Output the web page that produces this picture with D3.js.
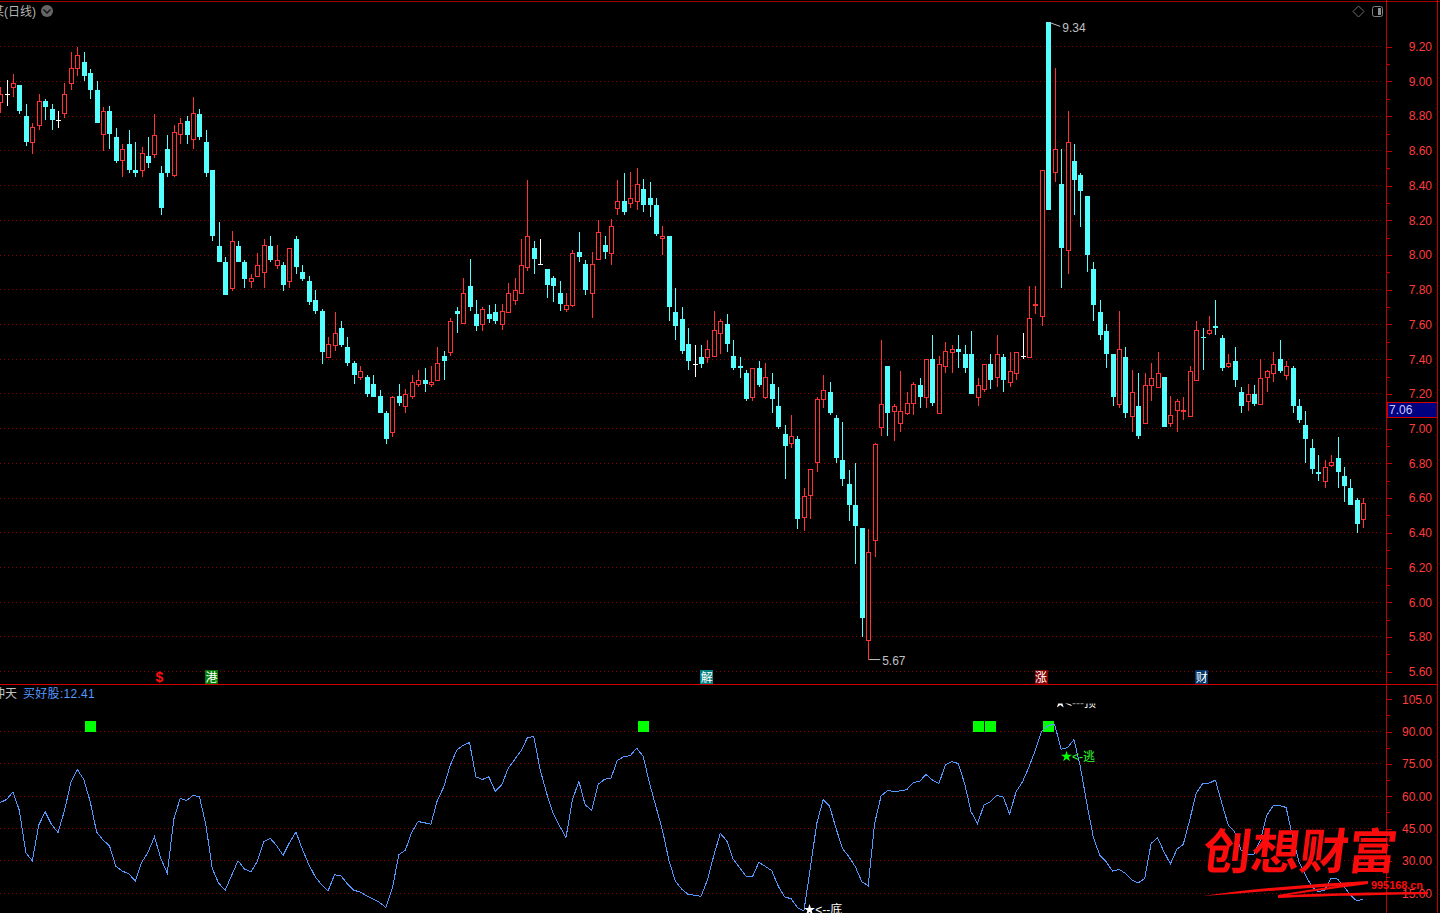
<!DOCTYPE html>
<html><head><meta charset="utf-8">
<script src="https://cdn.jsdelivr.net/npm/d3@7"></script>
<style>
html,body{margin:0;padding:0;background:#000;overflow:hidden}
svg{display:block;background:#000}
text{font-family:"Liberation Sans","Noto Sans CJK SC",sans-serif}
</style></head><body><svg id="c" width="1440" height="913"></svg>
<script>
const highs=[
8.97,9.01,9.04,8.98,8.87,8.76,8.93,8.90,8.87,8.83,
8.99,9.17,9.20,9.17,9.07,9.00,8.85,8.86,8.73,8.64,
8.72,8.65,8.62,8.68,8.81,8.51,8.69,8.75,8.79,8.80,
8.91,8.84,8.72,8.49,8.19,7.99,8.14,8.08,7.97,7.89,
8.01,8.09,8.11,8.06,7.96,8.04,8.11,7.94,7.88,7.80,
7.69,7.53,7.67,7.62,7.53,7.39,7.36,7.31,7.31,7.22,
7.10,7.19,7.26,7.23,7.31,7.34,7.35,7.36,7.47,7.45,
7.64,7.70,7.87,7.98,7.74,7.70,7.71,7.72,7.72,7.84,
7.87,8.09,8.43,8.08,8.09,7.92,7.88,7.85,7.78,8.03,
8.13,7.97,8.02,8.20,8.11,8.21,8.43,8.47,8.48,8.50,
8.44,8.42,8.33,8.17,8.11,7.81,7.70,7.58,7.48,7.48,
7.51,7.68,7.63,7.66,7.51,7.41,7.34,7.35,7.39,7.38,
7.32,7.24,7.02,7.08,6.96,6.66,6.77,7.18,7.31,7.27,
7.08,7.04,6.76,6.80,6.43,6.42,6.92,7.51,7.36,7.14,
7.33,7.21,7.27,7.29,7.40,7.54,7.42,7.50,7.48,7.54,
7.48,7.56,7.29,7.37,7.43,7.54,7.43,7.44,7.44,7.55,
7.82,7.82,8.49,9.34,9.08,8.61,8.83,8.64,8.47,8.34,
7.96,7.74,7.60,7.43,7.68,7.47,7.34,7.32,7.32,7.38,
7.44,7.30,7.19,7.17,7.18,7.36,7.62,7.58,7.65,7.74,
7.54,7.43,7.47,7.24,7.26,7.25,7.40,7.34,7.44,7.51,
7.39,7.36,7.17,7.10,6.94,6.85,6.82,6.85,6.95,6.78,
6.71,6.60,6.60];
const lows=[
8.82,8.86,8.91,8.81,8.63,8.58,8.72,8.78,8.72,8.73,
8.79,8.95,9.03,9.00,8.90,8.76,8.60,8.61,8.53,8.45,
8.47,8.45,8.45,8.50,8.56,8.23,8.45,8.45,8.64,8.64,
8.61,8.66,8.45,8.08,7.96,7.77,7.79,7.96,7.81,7.81,
7.88,7.81,7.96,7.92,7.79,7.81,7.89,7.85,7.71,7.66,
7.37,7.41,7.45,7.47,7.36,7.26,7.28,7.18,7.18,7.09,
6.91,6.95,7.13,7.09,7.17,7.24,7.21,7.24,7.28,7.28,
7.42,7.55,7.61,7.68,7.56,7.56,7.61,7.60,7.57,7.67,
7.71,7.78,7.91,7.89,7.95,7.75,7.73,7.68,7.67,7.70,
7.96,7.77,7.64,7.98,7.98,7.94,8.23,8.23,8.27,8.26,
8.25,8.22,8.11,8.00,7.62,7.51,7.43,7.34,7.30,7.35,
7.38,7.41,7.43,7.44,7.34,7.29,7.16,7.16,7.24,7.17,
7.09,7.00,6.71,6.89,6.42,6.41,6.48,6.75,7.12,7.08,
6.80,6.67,6.47,6.22,5.80,5.67,6.26,6.96,6.96,6.93,
6.98,7.08,7.08,7.12,7.12,7.13,7.09,7.32,7.32,7.35,
7.32,7.20,7.13,7.21,7.23,7.24,7.21,7.24,7.28,7.40,
7.41,7.66,7.59,8.26,8.42,7.81,7.89,8.23,8.16,7.90,
7.62,7.51,7.35,7.13,7.12,7.06,6.98,6.94,7.03,7.16,
7.24,7.01,7.01,6.98,7.05,7.07,7.28,7.34,7.54,7.54,
7.33,7.35,7.24,7.09,7.10,7.13,7.14,7.21,7.27,7.32,
7.28,7.09,7.03,6.80,6.74,6.70,6.66,6.78,6.66,6.58,
6.56,6.40,6.43];
const opens=[
8.88,8.93,8.97,8.98,8.80,8.65,8.75,8.89,8.84,8.78,
8.82,8.99,9.08,9.11,9.05,8.95,8.70,8.83,8.68,8.55,
8.64,8.49,8.49,8.57,8.58,8.47,8.61,8.46,8.70,8.77,
8.67,8.81,8.65,8.49,8.05,7.96,7.81,8.05,7.96,7.85,
7.88,7.90,8.05,7.94,7.94,7.85,8.09,7.90,7.85,7.74,
7.68,7.41,7.48,7.58,7.47,7.38,7.30,7.30,7.26,7.19,
7.09,6.98,7.19,7.13,7.19,7.26,7.28,7.26,7.28,7.42,
7.44,7.68,7.61,7.82,7.66,7.60,7.66,7.67,7.60,7.67,
7.74,7.78,7.93,8.04,7.95,7.92,7.87,7.78,7.69,7.71,
8.02,7.95,7.78,7.98,8.06,8.01,8.27,8.31,8.30,8.31,
8.38,8.33,8.29,8.10,8.11,7.67,7.63,7.49,7.37,7.41,
7.41,7.42,7.55,7.60,7.42,7.36,7.32,7.18,7.35,7.18,
7.26,7.13,6.97,6.92,6.94,6.49,6.62,6.81,7.17,7.21,
7.06,6.82,6.68,6.56,6.43,5.78,6.36,7.01,7.36,7.10,
7.03,7.09,7.15,7.25,7.18,7.40,7.09,7.36,7.44,7.46,
7.43,7.43,7.18,7.23,7.37,7.30,7.41,7.27,7.32,7.42,
7.41,7.71,7.65,9.34,8.48,8.41,8.03,8.54,8.46,8.34,
7.92,7.67,7.56,7.43,7.14,7.41,7.07,7.13,7.03,7.25,
7.24,7.30,7.03,7.11,7.10,7.07,7.28,7.53,7.55,7.59,
7.52,7.36,7.39,7.21,7.16,7.20,7.14,7.30,7.32,7.40,
7.31,7.35,7.13,7.02,6.89,6.75,6.70,6.79,6.83,6.73,
6.66,6.59,6.48];
const closes=[
8.93,8.93,8.99,8.83,8.65,8.74,8.89,8.85,8.78,8.78,
8.93,9.08,9.15,9.03,8.95,8.76,8.83,8.70,8.54,8.61,
8.49,8.47,8.59,8.53,8.69,8.27,8.47,8.71,8.76,8.69,
8.82,8.68,8.47,8.11,7.96,7.77,8.08,7.96,7.86,7.87,
7.94,8.06,7.97,7.97,7.83,8.04,7.93,7.86,7.73,7.68,
7.44,7.49,7.55,7.48,7.38,7.31,7.33,7.20,7.18,7.09,
6.94,7.18,7.15,7.20,7.27,7.28,7.26,7.27,7.38,7.39,
7.62,7.66,7.78,7.70,7.59,7.69,7.63,7.62,7.68,7.78,
7.80,7.94,8.11,7.98,7.95,7.83,7.82,7.72,7.71,8.01,
7.99,7.80,7.95,8.13,8.02,8.17,8.31,8.25,8.33,8.41,
8.29,8.29,8.12,8.11,7.70,7.59,7.45,7.39,7.37,7.37,
7.46,7.57,7.62,7.49,7.35,7.35,7.17,7.35,7.25,7.30,
7.17,7.01,6.90,6.96,6.48,6.61,6.77,7.17,7.22,7.09,
6.83,6.71,6.56,6.44,5.91,6.29,6.91,7.14,7.09,7.13,
7.10,7.15,7.26,7.18,7.40,7.15,7.37,7.45,7.46,7.44,
7.35,7.20,7.25,7.37,7.28,7.43,7.28,7.33,7.44,7.42,
7.64,7.72,8.49,8.26,8.61,8.04,8.65,8.43,8.37,8.00,
7.71,7.54,7.43,7.18,7.46,7.09,7.21,6.96,7.25,7.29,
7.32,7.01,7.08,7.16,7.11,7.33,7.57,7.52,7.57,7.58,
7.35,7.38,7.28,7.13,7.20,7.14,7.29,7.33,7.37,7.33,
7.36,7.13,7.05,6.94,6.77,6.74,6.78,6.81,6.75,6.67,
6.56,6.45,6.57];
const indicator=[
57.1,58.5,62.1,53.3,33.8,30.1,46.6,52.8,46.9,43.2,53.3,66.4,72.4,67.9,57.6,43.5,39.7,37.1,27.5,25.3,
24.1,20.7,29.2,34.1,41.2,31.0,24.3,49.3,59.0,58.1,60.4,59.8,46.6,26.4,19.6,16.5,23.3,30.1,26.3,24.9,
29.8,38.9,40.5,37.1,32.6,38.5,43.5,35.4,28.4,22.7,18.9,16.1,23.6,23.2,19.3,16.4,15.6,13.8,12.4,10.8,
8.4,17.3,32.9,34.9,43.2,48.3,47.7,47.1,58.2,64.4,74.4,81.4,83.7,84.9,69.0,67.8,
69.0,62.4,65.2,72.9,77.0,81.0,87.2,87.7,72.1,61.3,52.0,46.3,40.9,58.2,67.0,55.9,53.6,65.5,67.9,68.5,
76.7,78.4,78.9,82.3,78.6,65.9,55.1,44.3,30.4,20.7,16.9,14.5,14.1,13.6,21.2,32.7,42.8,39.4,30.9,26.9,
22.9,22.7,29.4,27.5,25.5,18.4,13.3,12.5,8.4,6.8,26.6,47.4,58.5,55.4,45.1,35.8,32.0,27.3,20.4,18.5,
47.4,60.1,62.7,62.2,62.5,63.1,66.4,67.0,70.1,67.5,65.9,74.6,76.1,75.2,
65.9,52.8,47.4,55.9,57.4,60.4,59.6,51.7,62.1,66.7,73.6,81.4,90.3,92.9,93.4,81.8,82.6,86.3,73.6,56.7,
41.2,32.7,29.7,25.3,26.1,24.3,21.2,19.8,21.9,38.1,40.7,34.3,28.6,35.4,37.7,49.0,61.3,65.9,66.1,67.5,
56.7,46.6,43.5,35.1,33.1,33.2,39.7,51.3,55.6,55.7,54.8,41.2,29.7,23.5,18.1,15.8,16.5,22.1,21.6,18.1,
14.2,11.4,12.41];
const priceTicks=[5.6,5.8,6.0,6.2,6.4,6.6,6.8,7.0,7.2,7.4,7.6,7.8,8.0,8.2,8.4,8.6,8.8,9.0,9.2];
const indicatorTicks=[15,30,45,60,75,90,105];
const indicatorGridTicks=[15,30,45,60,75,90];
const buySignalIndex=[14,100,152,154,163];
const buySignalTop=95, buySignalBase=90;
const eventTags=[["$",24,"none","#ff1010"],["港",33,"#007a00","#fff"],["解",110,"#008080","#fff"],["涨",162,"#800000","#fff"],["财",187,"#003366","#fff"]];
const lastClose=7.06, lastTagLevel=7.105, maxPrice=9.34, minPrice=5.67, maxIndex=163, minIndex=135;
const bottomStar=[126,7.3,"<--底"], topStar=[165,103.4,"<---顶"], escapeStar=[166,78.4,"<-逃"];

const RED="#ff3232",CYAN="#54ffff",AXIS="#c00000",GRID="#8c0000",LBL="#ff3c3c";
const svg=d3.select("#c");
const x=d3.scaleLinear().domain([0,212]).range([0.14,1363.3]);
const yP=d3.scaleLinear().domain([5.6,9.2]).range([671.7,46.7]);
const yI=d3.scaleLinear().domain([15,105]).range([893.3,699.3]);
const px=v=>Math.round(v)+0.5;
const fmtP=d3.format(".2f");

const defs=svg.append("defs");
defs.append("clipPath").attr("id","pp").append("rect").attr("x",0).attr("y",2).attr("width",1386).attr("height",682);
defs.append("clipPath").attr("id","ip").append("rect").attr("x",0).attr("y",703.5).attr("width",1386).attr("height",209.5);

// grids: one-pixel dots, four pixels apart
const grid=svg.append("g");
grid.selectAll(".gp").data(priceTicks).join("line").attr("class","gp").attr("x1",0).attr("x2",1383)
 .attr("y1",d=>px(yP(d)-0.5)).attr("y2",d=>px(yP(d)-0.5)).attr("stroke",GRID).attr("stroke-dasharray","1,3");
grid.selectAll(".gi").data(indicatorGridTicks).join("line").attr("class","gi").attr("x1",0).attr("x2",1383)
 .attr("y1",d=>px(yI(d)-0.5)).attr("y2",d=>px(yI(d)-0.5)).attr("stroke",GRID).attr("stroke-dasharray","1,3");

// candles
const cg=svg.append("g").attr("clip-path","url(#pp)").attr("shape-rendering","crispEdges");
const idx=d3.range(highs.length);
const col=i=>closes[i]>opens[i]?RED:closes[i]<opens[i]?CYAN:"#fff";
cg.selectAll(".w").data(idx).join("line").attr("x1",i=>px(x(i))).attr("x2",i=>px(x(i)))
 .attr("y1",i=>Math.round(yP(highs[i]))).attr("y2",i=>Math.round(yP(lows[i]))).attr("stroke",col);
cg.selectAll(".b").data(idx).join("rect")
 .attr("x",i=>{const up=closes[i]>opens[i];return px(x(i))-(up?2:2.5)})
 .attr("width",i=>closes[i]>opens[i]?4:5)
 .attr("y",i=>{const t=Math.round(yP(Math.max(opens[i],closes[i])));return closes[i]>opens[i]?t+0.5:t})
 .attr("height",i=>{const t=Math.round(yP(Math.max(opens[i],closes[i]))),b=Math.round(yP(Math.min(opens[i],closes[i])));return Math.max(b-t,1)})
 .attr("fill",i=>closes[i]>opens[i]?"#000":col(i))
 .attr("stroke",i=>closes[i]>opens[i]?RED:"none");

// extremes
function extreme(i,v,label,dy,textDy){
 const g=svg.append("g");
 g.append("line").attr("x1",x(i)+1).attr("y1",yP(v)).attr("x2",x(i)+12).attr("y2",yP(v)+dy).attr("stroke","#c0c0c0");
 g.append("text").attr("x",x(i)+14).attr("y",yP(v)+dy+textDy).attr("fill","#c0c0c0").attr("font-size",12).text(label);
}
extreme(maxIndex,maxPrice,fmtP(maxPrice),4,6);
extreme(minIndex,minPrice,fmtP(minPrice),0,5);

// event tags
const tg=svg.append("g");
eventTags.forEach(([t,i,bg,fg])=>{
 const cx=t==="$"?x(i)+5:x(i)-0.7;
 if(bg!=="none")tg.append("rect").attr("x",cx-6.5).attr("y",670).attr("width",13).attr("height",14).attr("fill",bg).attr("shape-rendering","crispEdges");
 tg.append("text").attr("x",cx).attr("y",681.5).attr("text-anchor","middle").attr("fill",fg).attr("font-size",t==="$"?14:12).attr("font-weight",t==="$"?"bold":"normal").text(t);
});

// borders
const bd=svg.append("g").attr("shape-rendering","crispEdges").attr("stroke",AXIS);
bd.append("line").attr("x1",0).attr("x2",1440).attr("y1",1.5).attr("y2",1.5).attr("stroke","#a00000");
bd.append("line").attr("x1",0).attr("x2",1437).attr("y1",684.5).attr("y2",684.5).attr("stroke","#d00000");
bd.append("line").attr("x1",1386.5).attr("x2",1386.5).attr("y1",0).attr("y2",913);
bd.append("line").attr("x1",1437.5).attr("x2",1437.5).attr("y1",0).attr("y2",913);

// axes
function styleAxis(g){g.select(".domain").remove();g.selectAll("line").attr("stroke",AXIS).attr("shape-rendering","crispEdges");
 g.selectAll("text").attr("fill",LBL).attr("font-size",12).attr("text-anchor","end").attr("x",45.5).attr("font-family",'"Liberation Sans",sans-serif');}
svg.append("g").attr("transform","translate(1386.5,0)")
 .call(d3.axisRight(yP).tickValues(priceTicks).tickSize(5).tickFormat(fmtP)).call(styleAxis);
svg.append("g").attr("transform","translate(1386.5,0)")
 .call(d3.axisRight(yP).tickValues(priceTicks.slice(0,-1).map(d=>d+0.1)).tickSize(3).tickFormat("")).call(styleAxis);
const lab=d=>d>=100?d.toFixed(1):d.toFixed(2);
svg.append("g").attr("transform","translate(1386.5,0)")
 .call(d3.axisRight(yI).tickValues(indicatorTicks).tickSize(5).tickFormat(lab)).call(styleAxis);
svg.append("g").attr("transform","translate(1386.5,0)")
 .call(d3.axisRight(yI).tickValues(indicatorGridTicks.map(d=>d+7.5)).tickSize(3).tickFormat("")).call(styleAxis);

// last price tag
const yl=yP(lastTagLevel);
svg.append("rect").attr("x",1387).attr("y",Math.round(yl)-7.5).attr("width",50).attr("height",15).attr("fill","#000080").attr("stroke","#d00000").attr("shape-rendering","crispEdges");
svg.append("text").attr("x",1389).attr("y",Math.round(yl)+4).attr("fill","#c8c8ff").attr("font-size",12).text(fmtP(lastClose));

// indicator
const ig=svg.append("g").attr("clip-path","url(#ip)");
ig.selectAll(".sq").data(buySignalIndex).join("rect").attr("x",i=>Math.round(x(i))-5).attr("width",11)
 .attr("y",Math.round(yI(buySignalTop))).attr("height",Math.round(yI(buySignalBase))-Math.round(yI(buySignalTop)))
 .attr("fill","#00ff00").attr("shape-rendering","crispEdges");
ig.append("path").datum(indicator).attr("fill","none").attr("stroke","#5599ff").attr("stroke-width",1)
 .attr("shape-rendering","crispEdges").attr("d",d3.line().x((d,i)=>x(i)).y(d=>yI(d)));
const star=d3.symbol().type(d3.symbolStar).size(38);
function starLabel(s,color,dx){
 const [i,v,t]=s;
 ig.append("path").attr("d",star()).attr("transform",`translate(${x(i)-(color==="#fff"?0.8:1)},${yI(v)})`).attr("fill",color);
 ig.append("text").attr("x",x(i)+dx).attr("y",yI(v)+4).attr("fill",color==="#fff"?"#fff":"#33ff33").attr("font-size",12).text(t);
}
starLabel(bottomStar,"#fff",5);
starLabel(topStar,"#fff",4);
starLabel(escapeStar,"#00ff00",4.5);

// titles
svg.append("text").attr("x",-8).attr("y",16).attr("fill","#b4b4b4").attr("font-size",12).text("某(日线)");
svg.append("circle").attr("cx",47).attr("cy",11).attr("r",6).attr("fill","#666");
svg.append("path").attr("d","M43.5 9.5L47 13L50.5 9.5").attr("fill","none").attr("stroke","#111").attr("stroke-width",1.4);
svg.append("text").attr("x",-7).attr("y",698).attr("fill","#c0c0c0").attr("font-size",12).text("冲天");
svg.append("text").attr("x",23).attr("y",698).attr("fill","#5599ff").attr("font-size",12).attr("letter-spacing",0.3).text("买好股:"+indicator[indicator.length-1].toFixed(2));

// icons
svg.append("path").attr("d","M1358.5 6L1364 11.5L1358.5 17L1353 11.5Z").attr("fill","none").attr("stroke","#707070");
svg.append("rect").attr("x",1372.5).attr("y",6.5).attr("width",10).attr("height",10).attr("rx",2).attr("fill","none").attr("stroke","#808080");
svg.append("rect").attr("x",1378).attr("y",8).attr("width",3).attr("height",7).attr("fill","#909090");

// watermark
const wm=svg.append("g").attr("fill","#fb0c0c");
wm.append("text").attr("transform","translate(1201,869) skewX(-7)").attr("font-family",'"Noto Sans CJK SC",sans-serif')
 .attr("font-weight",700).attr("font-size",48.5).text("创想财富");
wm.append("path").attr("d","M1203 896C1250 889 1310 884 1368 881L1368 884C1345 887 1315 891 1288 895C1330 893 1390 892 1428 892L1428 894C1380 895 1320 896 1278 898L1278 895C1300 891 1320 888 1338 886C1290 889 1250 893 1203 896Z");
wm.append("text").attr("x",1371).attr("y",889).attr("font-size",10.5).attr("font-weight","bold").attr("font-family",'"DejaVu Sans",sans-serif').attr("textLength",52).attr("lengthAdjust","spacingAndGlyphs").text("995168.cn");
</script></body></html>
